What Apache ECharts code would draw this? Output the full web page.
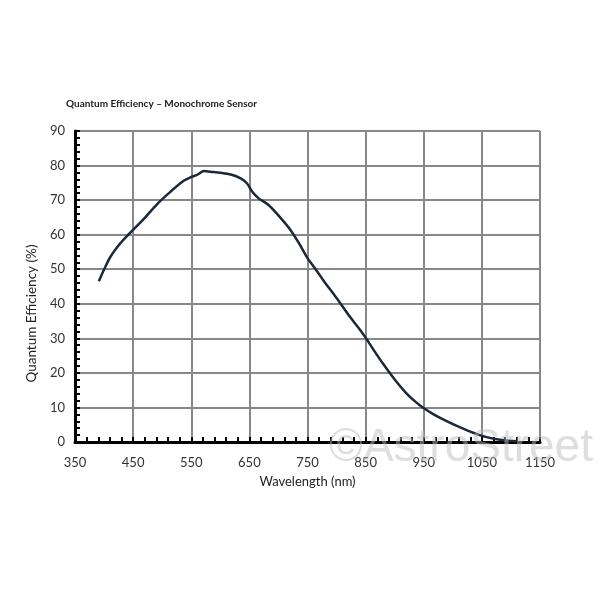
<!DOCTYPE html>
<html>
<head>
<meta charset="utf-8">
<script src="https://cdn.jsdelivr.net/npm/echarts@6/dist/echarts.min.js"></script>
<style>html,body{margin:0;padding:0;background:#fff}#c{width:600px;height:600px}</style>
</head>
<body>
<div id="c"></div>
<script>
const wavelengths = [391, 400, 411, 428, 443, 468, 491, 514, 537, 550, 560, 572, 583, 600, 618, 635, 646, 655, 666, 683, 704, 721, 735, 750, 764, 778, 795, 810, 824, 838, 850, 864, 881, 899, 919, 936, 949, 967, 985, 1005, 1030, 1058, 1087, 1110];
const qe = [46.5, 49.9, 53.6, 57.5, 60.2, 64.5, 68.8, 72.4, 75.6, 76.7, 77.3, 78.4, 78.2, 77.9, 77.4, 76.3, 74.8, 72.4, 70.5, 68.6, 64.8, 61.3, 57.6, 53.2, 50, 46.6, 42.8, 39.3, 36.0, 33.0, 30.2, 26.6, 22.4, 18.3, 14.3, 11.6, 9.9, 8.0, 6.4, 4.8, 3.0, 1.4, 0.5, 0.2];
const xTickLabels = ['350', '450', '550', '650', '750', '850', '950', '1050', '1150'];
const yTickLabels = ['0', '10', '20', '30', '40', '50', '60', '70', '80', '90'];
const titleText = 'Quantum Efficiency – Monochrome Sensor';
const xName = 'Wavelength (nm)';
const yName = 'Quantum Efficiency (%)';
const watermark = '©AstroStreet';

const points = wavelengths.map((w, i) => [w, qe[i]]);
const font = 'Lato, "Open Sans", sans-serif';
const chart = echarts.init(document.getElementById('c'));
chart.setOption({
  animation: false,
  backgroundColor: '#fff',
  title: {
    text: titleText, left: 61, top: 94,
    textStyle: { fontFamily: font, fontSize: 10, fontWeight: 'bold', color: '#222' }
  },
  grid: { left: 75, right: 60, top: 131, bottom: 158 },
  xAxis: [
    {
      type: 'value', min: 0, max: 800, interval: 100,
      name: xName, nameLocation: 'middle', nameGap: 33,
      nameTextStyle: { fontFamily: font, fontSize: 13, color: '#222' },
      axisLine: { show: true, lineStyle: { color: '#000', width: 3 } },
      axisTick: { show: true, inside: true, length: 5, lineStyle: { color: '#000', width: 2 } },
      minorTick: { show: true, splitNumber: 5, length: 5, lineStyle: { color: '#000', width: 2 } },
      axisLabel: { margin: 14, fontFamily: font, fontSize: 13, color: '#333',
        formatter: v => xTickLabels[Math.round(v / 100)] },
      splitLine: { show: true, lineStyle: { color: '#888', width: 2 } }
    },
    { type: 'value', min: 350, max: 1150, show: false }
  ],
  yAxis: {
    type: 'value', min: 0, max: 90, interval: 10,
    name: yName, nameLocation: 'middle', nameGap: 36,
    nameTextStyle: { fontFamily: font, fontSize: 13.5, color: '#222', padding: [0, 54, 0, 0] },
    axisLine: { show: true, lineStyle: { color: '#000', width: 3 } },
    axisTick: { show: true, inside: true, length: 5, lineStyle: { color: '#000', width: 2 } },
    minorTick: { show: true, splitNumber: 5, length: 5, lineStyle: { color: '#000', width: 2 } },
    axisLabel: { margin: 10, fontFamily: font, fontSize: 13, color: '#333',
      formatter: v => yTickLabels[Math.round(v / 10)] },
    splitLine: { show: true, lineStyle: { color: '#888', width: 2 } }
  },
  series: [{
    type: 'line', xAxisIndex: 1, data: points, smooth: 0.3, showSymbol: false,
    lineStyle: { color: '#1b2838', width: 2.5 }
  }],
  graphic: [{
    type: 'text', left: 329, top: 425, z: 100,
    style: { text: watermark, font: '46px "Liberation Sans", sans-serif', fill: 'rgba(190,190,190,0.5)' }
  }]
});
</script>
</body>
</html>
